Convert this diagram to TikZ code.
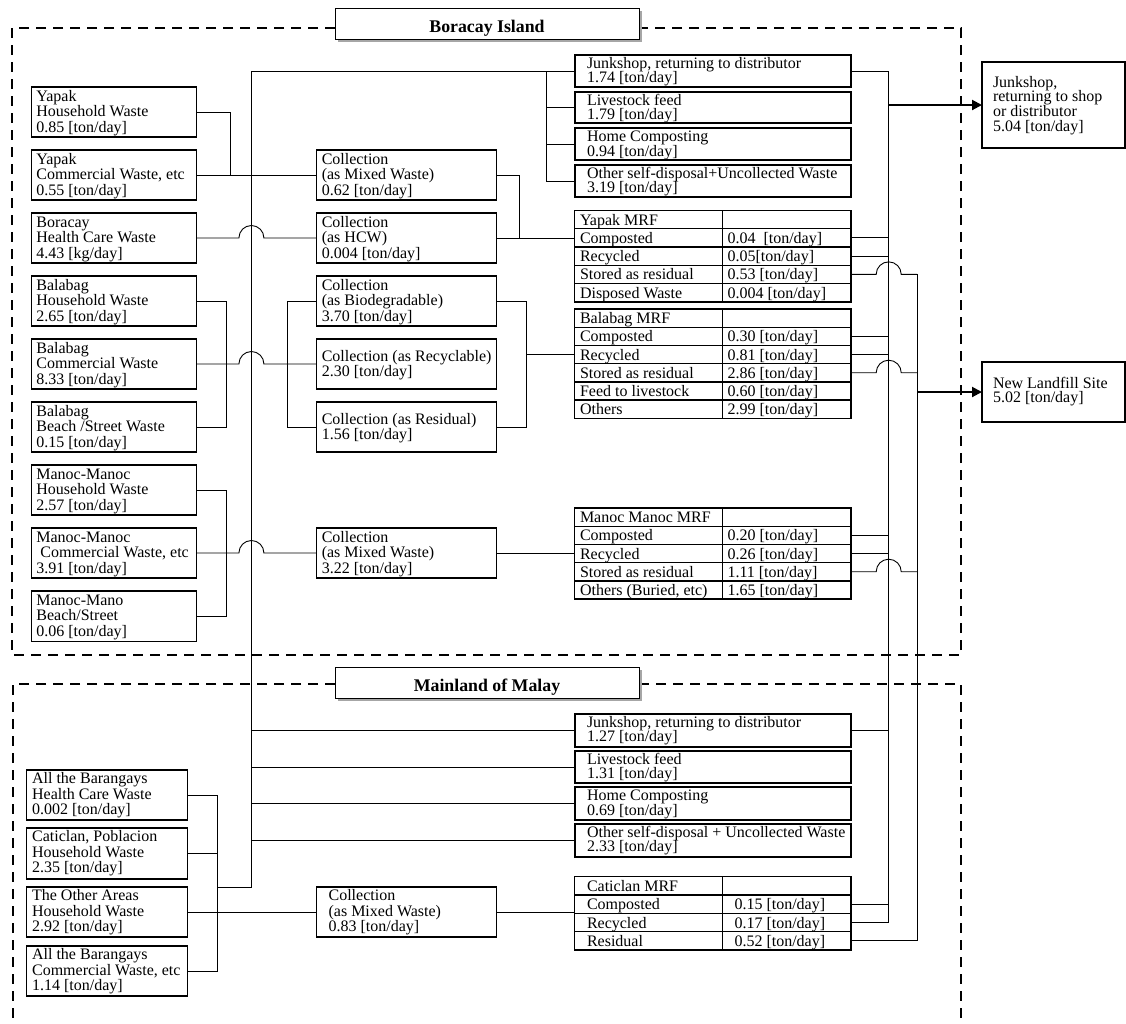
\documentclass[tikz,border=0pt]{standalone}
\usepackage{fontspec}
\setmainfont{Liberation Serif}
\usetikzlibrary{arrows.meta,shadows}

% several left-aligned lines with a fixed baseline skip; baseline = first line
\newcommand{\stacklines}[1]{\vtop{\def\\{\cr}\halign{##\hfil\cr#1\crcr}}}

% framed box: [text style]{name}{x}{y}{width}{height}{text dx}{first baseline dy}{lines}
\newcommand{\wastebox}[9][boxtext]{%
  \node[frame, minimum width=#5pt, minimum height=#6pt] (#2) at (#3,#4) {};
  \node[#1] (#2-text) at (#3+#7,#4+#8) {\stacklines{#9}};
}

% one row of an MRF table: {name}{top}{row height}{left dx}{right dx}{left text}{right text}
\newcommand{\mrfrow}[7]{%
  \node[cell, minimum width=148pt, minimum height=#3pt] (#1-l) at (574.5,#2) {};
  \node[cell, minimum width=128.5pt, minimum height=#3pt] (#1-r) at (722.5,#2) {};
  \node[celltext] (#1-lt) at (574.5+#4,#2+14.7) {#6};
  \node[celltext] (#1-rt) at (722.5+#5,#2+14.7) {#7};
}

% a line that hops over a vertical line at x of #2
\newcommand{\hopline}[3]{%
  \path (#2 |- #1) coordinate (hop);
  \draw[wire] (#1) -- ([xshift=-12.5pt]hop) arc[start angle=180, end angle=0, radius=12.5pt] -- (#3);
}

\tikzset{
  frame/.style={draw, line width=1.1pt, fill=white, inner sep=0pt, outer sep=0pt, anchor=north west},
  cell/.style={frame, line width=1.4pt},
  boxtext/.style={inner sep=0pt, outer sep=0pt, anchor=base west, font=\fontsize{16}{15.5}\selectfont},
  tighttext/.style={boxtext, font=\fontsize{16}{14.6}\selectfont},
  celltext/.style={boxtext},
  wire/.style={line width=0.9pt},
  flow/.style={line width=2pt, -{Triangle[length=10pt, width=10pt]}},
  region/.style={line width=2.2pt, dash pattern=on 10pt off 7pt},
  titlebox/.style={draw, line width=1pt, fill=white, minimum width=304pt, minimum height=31pt,
    inner sep=0pt, text height=24pt, text depth=7pt, font=\fontsize{17.8}{20}\selectfont\bfseries,
    drop shadow={shadow xshift=3pt, shadow yshift=-3pt, fill=gray!70, opacity=1}},
}

\begin{document}
\begin{tikzpicture}[x=1pt, y=-1pt]
\useasboundingbox (0,0) rectangle (1126,1023);
\fill[white] (0,0) rectangle (1126,1023);

% x positions of the vertical trunks
\coordinate (vmain) at (251.4,0);
\coordinate (vrt) at (546,0);
\coordinate (xY) at (230,0);
\coordinate (xB) at (226,0);
\coordinate (xM) at (217,0);
\coordinate (xBL) at (287.5,0);
\coordinate (xBR) at (526,0);
\coordinate (xJ) at (519,0);
\coordinate (v1) at (888.7,0);
\coordinate (v2) at (917,0);
\coordinate (mjoin) at (217,887);

% dashed area frames
\draw[region] (335,28) -- (12,28) -- (12,655) -- (961,655) -- (961,28) -- (639,28);
\draw[region] (335,684) -- (13,684) -- (13,1023);
\draw[region] (639,684) -- (961,684) -- (961,1023);

\node[titlebox] (boracayTitle) at (487,23.5) {Boracay Island};
\node[titlebox] (malayTitle) at (487,682.5) {Mainland of Malay};

% Boracay sources
\wastebox{yhh}{31.1}{87}{165.7}{50}{5.3}{14}{Yapak\\Household Waste\\0.85 [ton/day]}
\wastebox{ycom}{31.1}{150}{165.7}{50}{5.3}{14}{Yapak\\Commercial Waste, etc\\0.55 [ton/day]}
\wastebox{bhcw}{31.1}{213}{165.7}{50}{5.3}{14}{Boracay\\Health Care Waste\\4.43 [kg/day]}
\wastebox{bhh}{31.1}{276}{165.7}{50}{5.3}{14}{Balabag\\Household Waste\\2.65 [ton/day]}
\wastebox{bcom}{31.1}{339}{165.7}{50}{5.3}{14}{Balabag\\Commercial Waste\\8.33 [ton/day]}
\wastebox{bbeach}{31.1}{402}{165.7}{50}{5.3}{14}{Balabag\\Beach /Street Waste\\0.15 [ton/day]}
\wastebox{mhh}{31.1}{465}{165.7}{50}{5.3}{14}{Manoc-Manoc\\Household Waste\\2.57 [ton/day]}
\wastebox{mcom}{31.1}{528}{165.7}{50}{5.3}{14}{Manoc-Manoc\\\ Commercial Waste, etc\\3.91 [ton/day]}
\wastebox{mbeach}{31.1}{591}{165.7}{50.5}{5.3}{14}{Manoc-Mano\\Beach/Street\\0.06 [ton/day]}

% Boracay collection
\wastebox{colMixA}{316.8}{150}{179.6}{50}{5}{14}{Collection\\(as Mixed Waste)\\0.62 [ton/day]}
\wastebox{colHCW}{316.8}{213}{179.6}{50}{5}{14}{Collection\\(as HCW)\\0.004 [ton/day]}
\wastebox{colBio}{316.8}{276}{179.6}{50}{5}{14}{Collection\\(as Biodegradable)\\3.70 [ton/day]}
\wastebox{colRec}{316.8}{339}{179.6}{50}{5}{22}{Collection (as Recyclable)\\2.30 [ton/day]}
\wastebox{colRes}{316.8}{402}{179.6}{50}{5}{22}{Collection (as Residual)\\1.56 [ton/day]}
\wastebox{colMixB}{316.8}{528}{179.6}{50}{5}{14}{Collection\\(as Mixed Waste)\\3.22 [ton/day]}

% Boracay self-disposal
\wastebox[tighttext]{jb}{575}{55}{276}{32}{12}{13.3}{Junkshop, returning to distributor\\1.74 [ton/day]}
\wastebox[tighttext]{lb}{575}{92}{276}{31}{12}{13.3}{Livestock feed\\1.79 [ton/day]}
\wastebox[tighttext]{hb}{575}{128}{276}{32}{12}{13.5}{Home Composting\\0.94 [ton/day]}
\wastebox[tighttext]{ob}{575}{165}{276}{32}{12}{13.3}{Other self-disposal+Uncollected Waste\\3.19 [ton/day]}

% Yapak MRF
\mrfrow{ymrf1}{210.3}{18.3}{5.5}{5}{Yapak MRF}{}
\mrfrow{ymrf2}{228.6}{18.3}{5.5}{5}{Composted}{0.04\ \ [ton/day]}
\mrfrow{ymrf3}{246.9}{18.3}{5.5}{5}{Recycled}{0.05[ton/day]}
\mrfrow{ymrf4}{265.2}{18.3}{5.5}{5}{Stored as residual}{0.53 [ton/day]}
\mrfrow{ymrf5}{283.5}{18.3}{5.5}{5}{Disposed Waste}{0.004 [ton/day]}

% Balabag MRF
\mrfrow{bmrf1}{309}{18.2}{5.5}{5}{Balabag MRF}{}
\mrfrow{bmrf2}{327.2}{18.2}{5.5}{5}{Composted}{0.30 [ton/day]}
\mrfrow{bmrf3}{345.4}{18.2}{5.5}{5}{Recycled}{0.81 [ton/day]}
\mrfrow{bmrf4}{363.6}{18.2}{5.5}{5}{Stored as residual}{2.86 [ton/day]}
\mrfrow{bmrf5}{381.8}{18.2}{5.5}{5}{Feed to livestock}{0.60 [ton/day]}
\mrfrow{bmrf6}{400}{18.2}{5.5}{5}{Others}{2.99 [ton/day]}

% Manoc Manoc MRF
\mrfrow{mmrf1}{508}{18.2}{5.5}{5}{Manoc Manoc MRF}{}
\mrfrow{mmrf2}{526.2}{18.2}{5.5}{5}{Composted}{0.20 [ton/day]}
\mrfrow{mmrf3}{544.4}{18.2}{5.5}{5}{Recycled}{0.26 [ton/day]}
\mrfrow{mmrf4}{562.6}{18.2}{5.5}{5}{Stored as residual}{1.11 [ton/day]}
\mrfrow{mmrf5}{580.8}{18.2}{5.5}{5}{Others (Buried, etc)}{1.65 [ton/day]}

% Mainland sources
\wastebox{mhcw}{26.8}{770}{160.7}{50}{5.3}{13.5}{All the Barangays\\Health Care Waste\\0.002 [ton/day]}
\wastebox{mcat}{26.8}{828}{160.7}{51}{5.3}{13.5}{Caticlan, Poblacion\\Household Waste\\2.35 [ton/day]}
\wastebox{mother}{26.8}{887}{160.7}{50}{5.3}{13.5}{The Other Areas\\Household Waste\\2.92 [ton/day]}
\wastebox{mcomm}{26.8}{946}{160.7}{50}{5.3}{13.5}{All the Barangays\\Commercial Waste, etc\\1.14 [ton/day]}

\wastebox{colC}{316.8}{887}{179.6}{50}{11.8}{13.7}{Collection\\(as Mixed Waste)\\0.83 [ton/day]}

% Mainland self-disposal
\wastebox[tighttext]{mj}{575}{714}{276}{33}{12}{13.3}{Junkshop, returning to distributor\\1.27 [ton/day]}
\wastebox[tighttext]{ml}{575}{751}{276}{32}{12}{13.3}{Livestock feed\\1.31 [ton/day]}
\wastebox[tighttext]{mh}{575}{787}{276}{33}{12}{13.7}{Home Composting\\0.69 [ton/day]}
\wastebox[tighttext]{mo}{575}{824}{276}{33}{12}{13.3}{Other self-disposal + Uncollected Waste\\2.33 [ton/day]}

% Caticlan MRF
\mrfrow{cmrf1}{876.7}{18.3}{12.5}{12}{Caticlan MRF}{}
\mrfrow{cmrf2}{895}{18.3}{12.5}{12}{Composted}{0.15 [ton/day]}
\mrfrow{cmrf3}{913.3}{18.3}{12.5}{12}{Recycled}{0.17 [ton/day]}
\mrfrow{cmrf4}{931.6}{18.3}{12.5}{12}{Residual}{0.52 [ton/day]}

% destinations
\wastebox[tighttext]{jout}{982}{62}{143}{86}{11}{25.3}{Junkshop,\\returning to shop\\or distributor\\5.04 [ton/day]}
\wastebox[tighttext]{landfill}{982}{362}{143}{60}{11}{26.3}{New Landfill Site\\5.02 [ton/day]}

% ---- connectors: sources to collection ----
\draw[wire] (yhh.east) -| (xY |- ycom.east);
\draw[wire] (ycom.east) -- (colMixA.west);
\hopline{bhcw.east}{vmain}{colHCW.west}
\draw[wire] (bhh.east) -| (xB |- bbeach.east) -- (bbeach.east);
\hopline{bcom.east}{vmain}{colRec.west}
\draw[wire] (colBio.west) -| (xBL |- colRes.west) -- (colRes.west);
\draw[wire] (mhh.east) -| (xB |- mbeach.east) -- (mbeach.east);
\hopline{mcom.east}{vmain}{colMixB.west}

% collection to MRFs
\draw[wire] (colMixA.east) -| (xJ |- colHCW.east);
\draw[wire] (colHCW.east) -- (colHCW.east -| ymrf2-l.west);
\draw[wire] (colBio.east) -| (xBR |- colRes.east) -- (colRes.east);
\draw[wire] (xBR |- bmrf3-l.west) -- (bmrf3-l.west);
\draw[wire] (colMixB.east) -- (colMixB.east -| mmrf3-l.west);

% trunk to self-disposal
\draw[wire] (jb.west) -- (vmain |- jb.west) -- (vmain |- mjoin) -- (mjoin);
\draw[wire] (vrt |- jb.west) |- (ob.west);
\draw[wire] (vrt |- lb.west) -- (lb.west);
\draw[wire] (vrt |- hb.west) -- (hb.west);
\draw[wire] (vmain |- mj.west) -- (mj.west);
\draw[wire] (vmain |- ml.west) -- (ml.west);
\draw[wire] (vmain |- mh.west) -- (mh.west);
\draw[wire] (vmain |- mo.west) -- (mo.west);

% mainland sources
\draw[wire] (mhcw.east) -| (xM |- mcomm.east) -- (mcomm.east);
\draw[wire] (mcat.east) -- (xM |- mcat.east);
\draw[wire] (mother.east) -- (colC.west);
\draw[wire] (colC.east) -- (colC.east -| cmrf2-l.west);

% ---- outputs to junkshop and landfill ----
\draw[wire] (jb.east) -| (v1 |- cmrf3-r.east) -- (cmrf3-r.east);
\draw[wire] (ymrf2-r.east) -- (v1 |- ymrf2-r.east);
\draw[wire] (ymrf3-r.east) -- (v1 |- ymrf3-r.east);
\draw[wire] (bmrf2-r.east) -- (v1 |- bmrf2-r.east);
\draw[wire] (bmrf3-r.east) -- (v1 |- bmrf3-r.east);
\draw[wire] (mmrf2-r.east) -- (v1 |- mmrf2-r.east);
\draw[wire] (mmrf3-r.east) -- (v1 |- mmrf3-r.east);
\draw[wire] (mj.east) -- (v1 |- mj.east);
\draw[wire] (cmrf2-r.east) -- (v1 |- cmrf2-r.east);

\hopline{ymrf4-r.east}{v1}{v2 |- ymrf4-r.east}
\hopline{bmrf4-r.east}{v1}{v2 |- bmrf4-r.east}
\hopline{mmrf4-r.east}{v1}{v2 |- mmrf4-r.east}
\draw[wire] (v2 |- ymrf4-r.east) |- (cmrf4-r.east);

\draw[flow] (v1 |- jout.west) -- (jout.west);
\draw[flow] (v2 |- landfill.west) -- (landfill.west);
\end{tikzpicture}
\end{document}
